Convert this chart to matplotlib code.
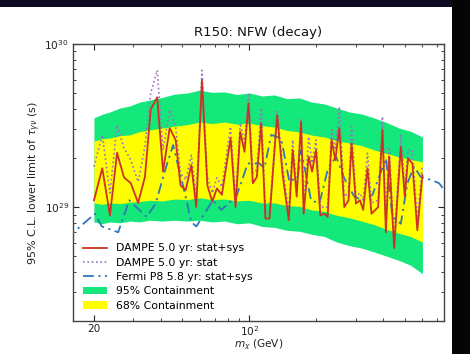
import matplotlib
matplotlib.use("Agg")
import matplotlib.pyplot as plt
import matplotlib.ticker as mticker
from matplotlib.patches import Rectangle, Patch
from matplotlib.lines import Line2D
import numpy as np

# ---- data ----
mass_dampe = [20.0, 21.8, 23.6, 25.4, 27.3, 29.3, 31.6, 33.9, 36.0, 38.5, 40.9, 43.8, 46.6, 49.0,
              51.7, 54.8, 57.7, 61.2, 64.7, 68.1, 71.4, 75.2, 82.3, 86.7, 90.9, 95.1, 99.1, 103.6,
              108, 113, 118.1, 123.1, 133.3, 141.2, 150.3, 156.6, 163.2, 170.8, 175.4, 184.7, 191.3,
              199.4, 208.4, 217.3, 224.8, 234.2, 243.4, 253.6, 267.1, 279.2, 288, 301.3, 314.1, 324.9,
              339.7, 354, 379.4, 396.6, 410.9, 425, 447.6, 479.6, 499.7, 517, 540.6, 569, 599.6]
dampe_statsys = [1.10, 1.73, 0.89, 2.15, 1.52, 1.40, 1.06, 1.53, 3.97, 4.71, 1.65, 3.05, 2.58, 1.36,
                 1.27, 1.81, 1.00, 6.0, 1.36, 1.08, 1.30, 1.19, 2.64, 1.00, 2.90, 2.18, 4.33, 1.40,
                 1.53, 3.26, 0.85, 0.85, 3.66, 1.57, 0.83, 2.24, 1.16, 3.34, 0.91, 2.04, 1.65,
                 2.24, 0.89, 0.91, 0.87, 2.58, 1.94, 3.05, 1.00, 1.10, 2.46, 1.05, 1.10, 0.96,
                 1.73, 0.91, 1.00, 2.97, 0.70, 2.04, 0.56, 2.34, 1.16, 1.99, 1.85, 0.72, 1.57]  # x1e29 s
dampe_stat = [1.77, 2.77, 1.22, 3.18, 2.30, 1.94, 1.43, 2.34, 5.0, 6.9, 2.24, 3.94, 3.11, 1.62,
              1.47, 2.08, 1.16, 6.9, 1.53, 1.22, 1.51, 1.33, 3.11, 1.10, 3.27, 2.47, 5.0, 1.62,
              1.69, 4.05, 0.92, 0.92, 3.94, 1.77, 0.92, 2.58, 1.27, 3.51, 1.00, 2.70, 1.86,
              2.58, 1.00, 1.00, 1.00, 2.97, 2.24, 4.12, 1.16, 1.22, 3.11, 1.16, 1.22, 1.10,
              2.14, 1.06, 1.10, 3.58, 0.83, 2.34, 0.63, 2.77, 1.33, 2.24, 2.24, 0.83, 1.77]  # x1e29 s

mass_fermi = [15.0, 20.2, 21.7, 25.7, 28.8, 34.5, 37.9, 41.6, 45.4, 51.2, 54.8, 57.7, 68.5, 74.8,
              87.3, 98.4, 111, 116.9, 125.3, 138.9, 151.3, 164.9, 170.8, 189.4, 206.4, 224.8, 245.2,
              267.1, 296.1, 322.5, 357.7, 410.9, 439.8, 479.6, 513.4, 550.2, 589.7, 654, 712.5, 760]
fermi_statsys = [0.64, 0.91, 0.76, 0.70, 1.10, 0.87, 1.05, 1.65, 2.40, 1.22, 0.81, 0.76, 1.10, 0.96,
                 1.16, 1.85, 1.85, 1.73, 2.77, 2.64, 1.43, 1.53, 2.24, 1.10, 1.05, 1.69, 2.04,
                 1.50, 1.16, 1.10, 1.19, 1.99, 0.87, 0.79, 1.40, 1.77, 1.53, 1.47, 1.40, 1.25]  # x1e29 s

mass_band = [20, 21.7, 23.6, 26.2, 29.0, 32.1, 35.6, 40.5, 46.2, 52.5, 59.7, 67.9, 77.3, 88.0, 100,
             114, 129.6, 147.5, 167.8, 191, 217.3, 247, 281.2, 320, 364, 414, 471, 530, 600]
band95_hi = [3.52, 3.70, 3.83, 4.05, 4.17, 4.40, 4.53, 4.70, 4.93, 5.00, 5.22, 5.05, 5.08, 4.90,
             5.01, 4.80, 4.87, 4.62, 4.67, 4.40, 4.29, 4.05, 3.83, 3.72, 3.52, 3.30, 3.05, 2.92, 2.69]
band68_hi = [2.54, 2.62, 2.65, 2.74, 2.77, 2.90, 2.97, 3.05, 3.14, 3.20, 3.32, 3.25, 3.32, 3.22,
             3.27, 3.15, 3.10, 2.95, 2.89, 2.76, 2.69, 2.55, 2.47, 2.38, 2.24, 2.13, 2.03, 1.96, 1.89]
band68_lo = [1.06, 1.04, 1.06, 1.05, 1.07, 1.08, 1.10, 1.09, 1.12, 1.11, 1.14, 1.11, 1.12, 1.09,
             1.10, 1.06, 1.06, 1.02, 1.01, 0.96, 0.94, 0.89, 0.86, 0.82, 0.78, 0.73, 0.69, 0.66, 0.61]
band95_lo = [0.81, 0.79, 0.81, 0.80, 0.82, 0.81, 0.83, 0.82, 0.83, 0.82, 0.83, 0.81, 0.82, 0.79,
             0.80, 0.76, 0.75, 0.72, 0.71, 0.68, 0.66, 0.61, 0.58, 0.56, 0.53, 0.50, 0.47, 0.44, 0.39]

scale = 1e29

W, H = 470, 354
fig = plt.figure(figsize=(W / 100, H / 100), dpi=100)
fig.patch.set_facecolor("white")
ax = fig.add_axes([73 / W, (H - 321) / H, (444 - 73) / W, (321 - 44) / H])

def s(v):
    return [x * scale for x in v]

GREEN = "#14e87a"
ax.fill_between(mass_band, s(band95_lo), s(band95_hi), color=GREEN, lw=0, zorder=1)
ax.fill_between(mass_band, s(band68_lo), s(band68_hi), color="#ffff00", lw=0, zorder=2)
ax.plot(mass_dampe, s(dampe_statsys), color="#cc3322", lw=1.3, zorder=5)
ax.plot(mass_dampe, s(dampe_stat), color="#9a70c8", lw=1.2, ls=(0, (1, 1.6)), zorder=4)
ax.plot(mass_fermi, s(fermi_statsys), color="#2f78b4", lw=1.3, ls=(0, (6, 2.5, 1.2, 2.5)), zorder=3)

ax.set_xscale("log")
ax.set_yscale("log")
ax.set_xlim(16.1, 750)
ax.set_ylim(2e28, 1e30)

ax.set_xticks([20, 100])
ax.set_xticklabels(["20", "$10^2$"])
ax.xaxis.set_minor_locator(mticker.LogLocator(base=10, subs=np.arange(2, 10), numticks=20))
ax.xaxis.set_minor_formatter(mticker.NullFormatter())
ax.yaxis.set_major_locator(mticker.LogLocator(base=10, numticks=10))
ax.yaxis.set_minor_locator(mticker.LogLocator(base=10, subs=np.arange(2, 10), numticks=20))
ax.yaxis.set_minor_formatter(mticker.NullFormatter())

ax.tick_params(which="both", direction="in", top=True, right=True, labelsize=7.6, colors="#222222")
ax.tick_params(which="major", length=4.5, width=0.8, pad=3)
ax.tick_params(axis="x", which="major", pad=2)
ax.tick_params(which="minor", length=2.2, width=0.6)
for sp in ax.spines.values():
    sp.set_color("#444444")
    sp.set_linewidth(1.0)

ax.set_title("R150: NFW (decay)", fontsize=9.5, pad=6, color="#111111")
ax.set_xlabel(r"$m_\chi$ (GeV)", fontsize=7.6, color="#222222", labelpad=0)
ax.set_ylabel(r"95% C.L. lower limit of $\tau_{\gamma\nu}$ (s)", fontsize=8, color="#222222", labelpad=1)

handles = [
    Line2D([], [], color="#cc3322", lw=1.3),
    Line2D([], [], color="#9a70c8", lw=1.2, ls=(0, (1, 1.6))),
    Line2D([], [], color="#2f78b4", lw=1.3, ls=(0, (6, 2.5, 1.2, 2.5))),
    Patch(facecolor=GREEN, edgecolor="none"),
    Patch(facecolor="#ffff00", edgecolor="none"),
]
labels = ["DAMPE 5.0 yr: stat+sys", "DAMPE 5.0 yr: stat", "Fermi P8 5.8 yr: stat+sys",
          "95% Containment", "68% Containment"]
ax.legend(handles, labels, loc="lower left", frameon=False, fontsize=7.8,
          handlelength=2.2, handletextpad=0.8, labelspacing=0.4, borderaxespad=0.55)

# dark border strips of the screenshot
fig.patches.append(Rectangle((0, 1 - 7 / H), 1, 7 / H, transform=fig.transFigure,
                             facecolor="#0c0a20", edgecolor="none", zorder=10))
fig.patches.append(Rectangle((452 / W, 0), 18 / W, 1, transform=fig.transFigure,
                             facecolor="#050505", edgecolor="none", zorder=10))

fig.savefig("out.png", dpi=100)
